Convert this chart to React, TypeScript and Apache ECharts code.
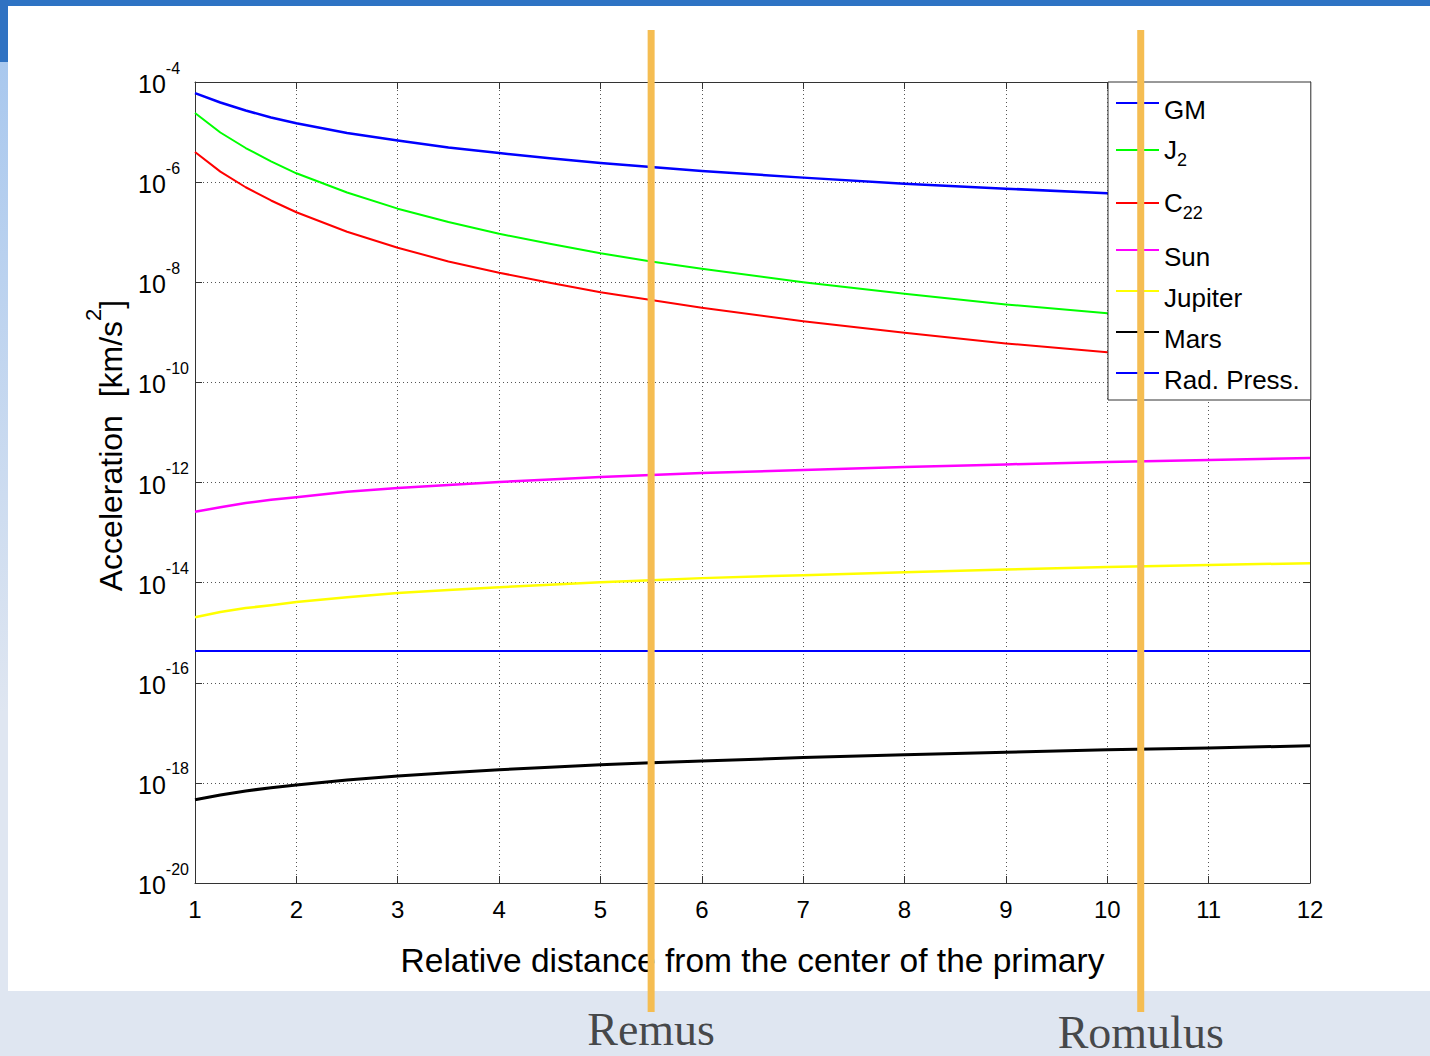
import React, { useEffect, useRef } from 'react';
import * as echarts from 'echarts';

// Relative distance from the centre of the primary (in primary radii)
const distance = [1, 1.25, 1.5, 1.75, 2, 2.5, 3, 3.5, 4, 4.5, 5, 5.5, 6, 7, 8, 9, 10, 11, 12];

// Perturbing accelerations [km/s^2] at each distance
const gmAccel = [6.0e-5, 3.9e-5, 2.7e-5, 1.95e-5, 1.5e-5, 9.6e-6, 6.8e-6, 4.9e-6, 3.8e-6, 3.0e-6, 2.4e-6, 2.0e-6, 1.66e-6, 1.23e-6, 9.3e-7, 7.4e-7, 6.0e-7, 5.0e-7, 4.2e-7];
const j2Accel = [2.4e-5, 9.8e-6, 4.8e-6, 2.6e-6, 1.5e-6, 6.2e-7, 2.95e-7, 1.6e-7, 9.3e-8, 5.9e-8, 3.8e-8, 2.6e-8, 1.86e-8, 1.0e-8, 5.9e-9, 3.6e-9, 2.4e-9, 1.66e-9, 1.15e-9];
const c22Accel = [4.0e-6, 1.62e-6, 7.9e-7, 4.3e-7, 2.5e-7, 1.02e-7, 4.9e-8, 2.6e-8, 1.55e-8, 9.8e-9, 6.3e-9, 4.4e-9, 3.1e-9, 1.66e-9, 9.8e-10, 6.0e-10, 4.0e-10, 2.75e-10, 1.9e-10];
const sunAccel = [2.6e-13, 3.2e-13, 3.9e-13, 4.5e-13, 5.1e-13, 6.5e-13, 7.8e-13, 8.9e-13, 1.02e-12, 1.15e-12, 1.29e-12, 1.41e-12, 1.55e-12, 1.78e-12, 2.04e-12, 2.3e-12, 2.57e-12, 2.8e-12, 3.1e-12];
const jupiterAccel = [2.04e-15, 2.6e-15, 3.1e-15, 3.55e-15, 4.1e-15, 5.1e-15, 6.2e-15, 7.1e-15, 8.1e-15, 9.1e-15, 1.02e-14, 1.12e-14, 1.23e-14, 1.41e-14, 1.62e-14, 1.82e-14, 2.04e-14, 2.24e-14, 2.45e-14];
const marsAccel = [4.6e-19, 5.7e-19, 6.9e-19, 8.0e-19, 9.1e-19, 1.14e-18, 1.37e-18, 1.6e-18, 1.83e-18, 2.06e-18, 2.29e-18, 2.51e-18, 2.74e-18, 3.2e-18, 3.66e-18, 4.1e-18, 4.57e-18, 5.0e-18, 5.5e-18];
const radPressDistance = [1, 12];
const radPressAccel = [4.3e-16, 4.3e-16];

const seriesNames = ['GM', 'J2', 'C22', 'Sun', 'Jupiter', 'Mars', 'Rad. Press.'];

// Orbits of the two moons
const moonNames = ['Remus', 'Romulus'];
const moonDistance = [5.5, 10.33];

// Axis extents
const xMin = 1;
const xMax = 12;
const xStep = 1;
const yMin = 1e-20;
const yMax = 1e-4;
const yDecadeStep = 2;

const FONT = '"Liberation Sans", Arial, Helvetica, sans-serif';
const SERIF = '"Liberation Serif", "Times New Roman", serif';

const lineLook: Record<string, { color: string; width: number }> = {
  GM: { color: '#0000ff', width: 2.5 },
  J2: { color: '#00ff00', width: 2 },
  C22: { color: '#ff0000', width: 2 },
  Sun: { color: '#ff00ff', width: 2.5 },
  Jupiter: { color: '#ffff00', width: 2.5 },
  Mars: { color: '#000000', width: 3 },
  'Rad. Press.': { color: '#0000ff', width: 2 },
};

const legendLabel: Record<string, string> = {
  J2: 'J{sub|2}',
  C22: 'C{sub|22}',
};

const moonLabelOffset = [17, 20];

const zip = (xs: number[], ys: number[]) => xs.map((x, i) => [x, ys[i]]);

export default function App() {
  const ref = useRef<HTMLDivElement>(null);

  useEffect(() => {
    if (!ref.current) return;
    const chart = echarts.init(ref.current, null, { renderer: 'svg' });

    const curves: Record<string, number[][]> = {
      GM: zip(distance, gmAccel),
      J2: zip(distance, j2Accel),
      C22: zip(distance, c22Accel),
      Sun: zip(distance, sunAccel),
      Jupiter: zip(distance, jupiterAccel),
      Mars: zip(distance, marsAccel),
      'Rad. Press.': zip(radPressDistance, radPressAccel),
    };

    const forceSeries = seriesNames.map((name) => ({
      name,
      type: 'line',
      xAxisIndex: 0,
      yAxisIndex: 0,
      data: curves[name],
      showSymbol: false,
      symbol: 'none',
      z: 2,
      lineStyle: { color: lineLook[name].color, width: lineLook[name].width, join: 'round' },
      itemStyle: { color: lineLook[name].color },
    }));

    const moonLines = moonNames.map((name, i) => ({
      name: name + ' orbit',
      type: 'line',
      xAxisIndex: 2,
      yAxisIndex: 2,
      data: [
        [moonDistance[i], 0],
        [moonDistance[i], 1],
      ],
      showSymbol: false,
      symbol: 'none',
      z: 10,
      lineStyle: { color: '#f5bd52', width: 7 },
      itemStyle: { color: '#f5bd52' },
    }));

    const moonLabels = {
      name: 'moon names',
      type: 'scatter',
      xAxisIndex: 2,
      yAxisIndex: 2,
      symbolSize: 1,
      z: 11,
      itemStyle: { color: 'rgba(0,0,0,0)' },
      data: moonNames.map((name, i) => ({
        value: [moonDistance[i], 0],
        name,
        label: { offset: [0, moonLabelOffset[i]] },
      })),
      label: {
        show: true,
        position: 'inside',
        formatter: (p: any) => p.name,
        fontFamily: SERIF,
        fontSize: 46,
        color: '#1c1c1c',
      },
    };

    const axisLineStyle = { color: '#333', width: 1 };
    const tick = { show: true, inside: true, length: 7, lineStyle: { color: '#333' } };

    const option: any = {
      animation: false,
      backgroundColor: '#dfe6f1',
      graphic: [
        { type: 'rect', z: -10, silent: true, shape: { x: 8, y: 6, width: 1422, height: 985 }, style: { fill: '#ffffff' } },
        { type: 'rect', z: -10, silent: true, shape: { x: 0, y: 0, width: 1430, height: 6 }, style: { fill: '#2e73c4' } },
        { type: 'rect', z: -10, silent: true, shape: { x: 0, y: 0, width: 8, height: 62 }, style: { fill: '#2f72c2' } },
        {
          type: 'rect',
          z: -10,
          silent: true,
          shape: { x: 0, y: 62, width: 8, height: 929 },
          style: {
            fill: new echarts.graphic.LinearGradient(0, 0, 0, 1, [
              { offset: 0, color: '#a9c8ee' },
              { offset: 0.7, color: '#dfe6f1' },
              { offset: 1, color: '#dfe6f1' },
            ]),
          },
        },
      ],
      grid: [
        { left: 195, right: 120, top: 82, bottom: 173, containLabel: false },
        { left: 195, right: 120, top: 30, bottom: 44, containLabel: false },
      ],
      legend: {
        orient: 'vertical',
        left: 1108,
        top: 82,
        padding: [1, 11, 7, 8],
        itemGap: 1,
        itemWidth: 43,
        itemHeight: 2,
        icon: 'rect',
        backgroundColor: '#ffffff',
        borderColor: '#333',
        borderWidth: 1,
        borderRadius: 0,
        z: 4,
        selectedMode: false,
        data: seriesNames.map((name) =>
          legendLabel[name] ? { name, textStyle: { padding: [4, 0, 4, 0] } } : { name }
        ),
        formatter: (name: string) => legendLabel[name] || name,
        textStyle: {
          fontFamily: FONT,
          fontSize: 26,
          lineHeight: 26,
          color: '#000',
          padding: [14, 0, 0, 0],
          rich: {
            sub: {
              fontFamily: FONT,
              fontSize: 18,
              color: '#000',
              height: 24,
              lineHeight: 44,
              verticalAlign: 'bottom',
            },
          },
        },
      },
      xAxis: [
        {
          type: 'value',
          gridIndex: 0,
          position: 'bottom',
          min: xMin,
          max: xMax,
          interval: xStep,
          axisLine: { show: true, lineStyle: axisLineStyle },
          axisTick: tick,
          axisLabel: { fontFamily: FONT, fontSize: 24, color: '#000', margin: 14 },
          splitLine: { show: true, lineStyle: { color: '#555', type: [1, 3], width: 1 } },
          name: 'Relative distance from the center of the primary',
          nameLocation: 'middle',
          nameGap: 60,
          nameTextStyle: { fontFamily: FONT, fontSize: 33.5, color: '#000' },
        },
        {
          type: 'value',
          gridIndex: 0,
          position: 'top',
          min: xMin,
          max: xMax,
          interval: xStep,
          axisLine: { show: true, lineStyle: axisLineStyle },
          axisTick: tick,
          axisLabel: { show: false },
          splitLine: { show: false },
        },
        { type: 'value', gridIndex: 1, min: xMin, max: xMax, show: false },
      ],
      yAxis: [
        {
          type: 'log',
          logBase: 10,
          gridIndex: 0,
          position: 'left',
          min: yMin,
          max: yMax,
          interval: yDecadeStep,
          axisLine: { show: true, lineStyle: axisLineStyle },
          axisTick: tick,
          minorTick: { show: false },
          axisLabel: {
            margin: 57,
            align: 'left',
            padding: [0, 0, 8, 0],
            formatter: (v: number) => `{b|10}{s|${Math.round(Math.log10(v))}}`,
            rich: {
              b: { fontFamily: FONT, fontSize: 25, color: '#000', height: 24, lineHeight: 24, verticalAlign: 'bottom' },
              s: { fontFamily: FONT, fontSize: 16, color: '#000', height: 16, lineHeight: 36, verticalAlign: 'top' },
            },
          },
          splitLine: { show: true, lineStyle: { color: '#555', type: [1, 3], width: 1 } },
          name: '{a|Acceleration  [km/s}{s|2}{a|]}',
          nameLocation: 'middle',
          nameRotate: 90,
          nameGap: 66,
          nameTextStyle: {
            padding: [0, 0, 0, 74],
            rich: {
              a: { fontFamily: FONT, fontSize: 32, color: '#000', height: 32, lineHeight: 32, verticalAlign: 'bottom' },
              s: { fontFamily: FONT, fontSize: 22, color: '#000', height: 22, lineHeight: 45, verticalAlign: 'top' },
            },
          },
        },
        {
          type: 'log',
          logBase: 10,
          gridIndex: 0,
          position: 'right',
          min: yMin,
          max: yMax,
          interval: yDecadeStep,
          axisLine: { show: true, lineStyle: axisLineStyle },
          axisTick: tick,
          axisLabel: { show: false },
          splitLine: { show: false },
        },
        { type: 'value', gridIndex: 1, min: 0, max: 1, show: false },
      ],
      series: [...forceSeries, ...moonLines, moonLabels],
    };

    chart.setOption(option);
    return () => chart.dispose();
  }, []);

  return (
    <div
      ref={ref}
      style={{ position: 'absolute', left: 0, top: 0, width: 1430, height: 1056 }}
    />
  );
}
